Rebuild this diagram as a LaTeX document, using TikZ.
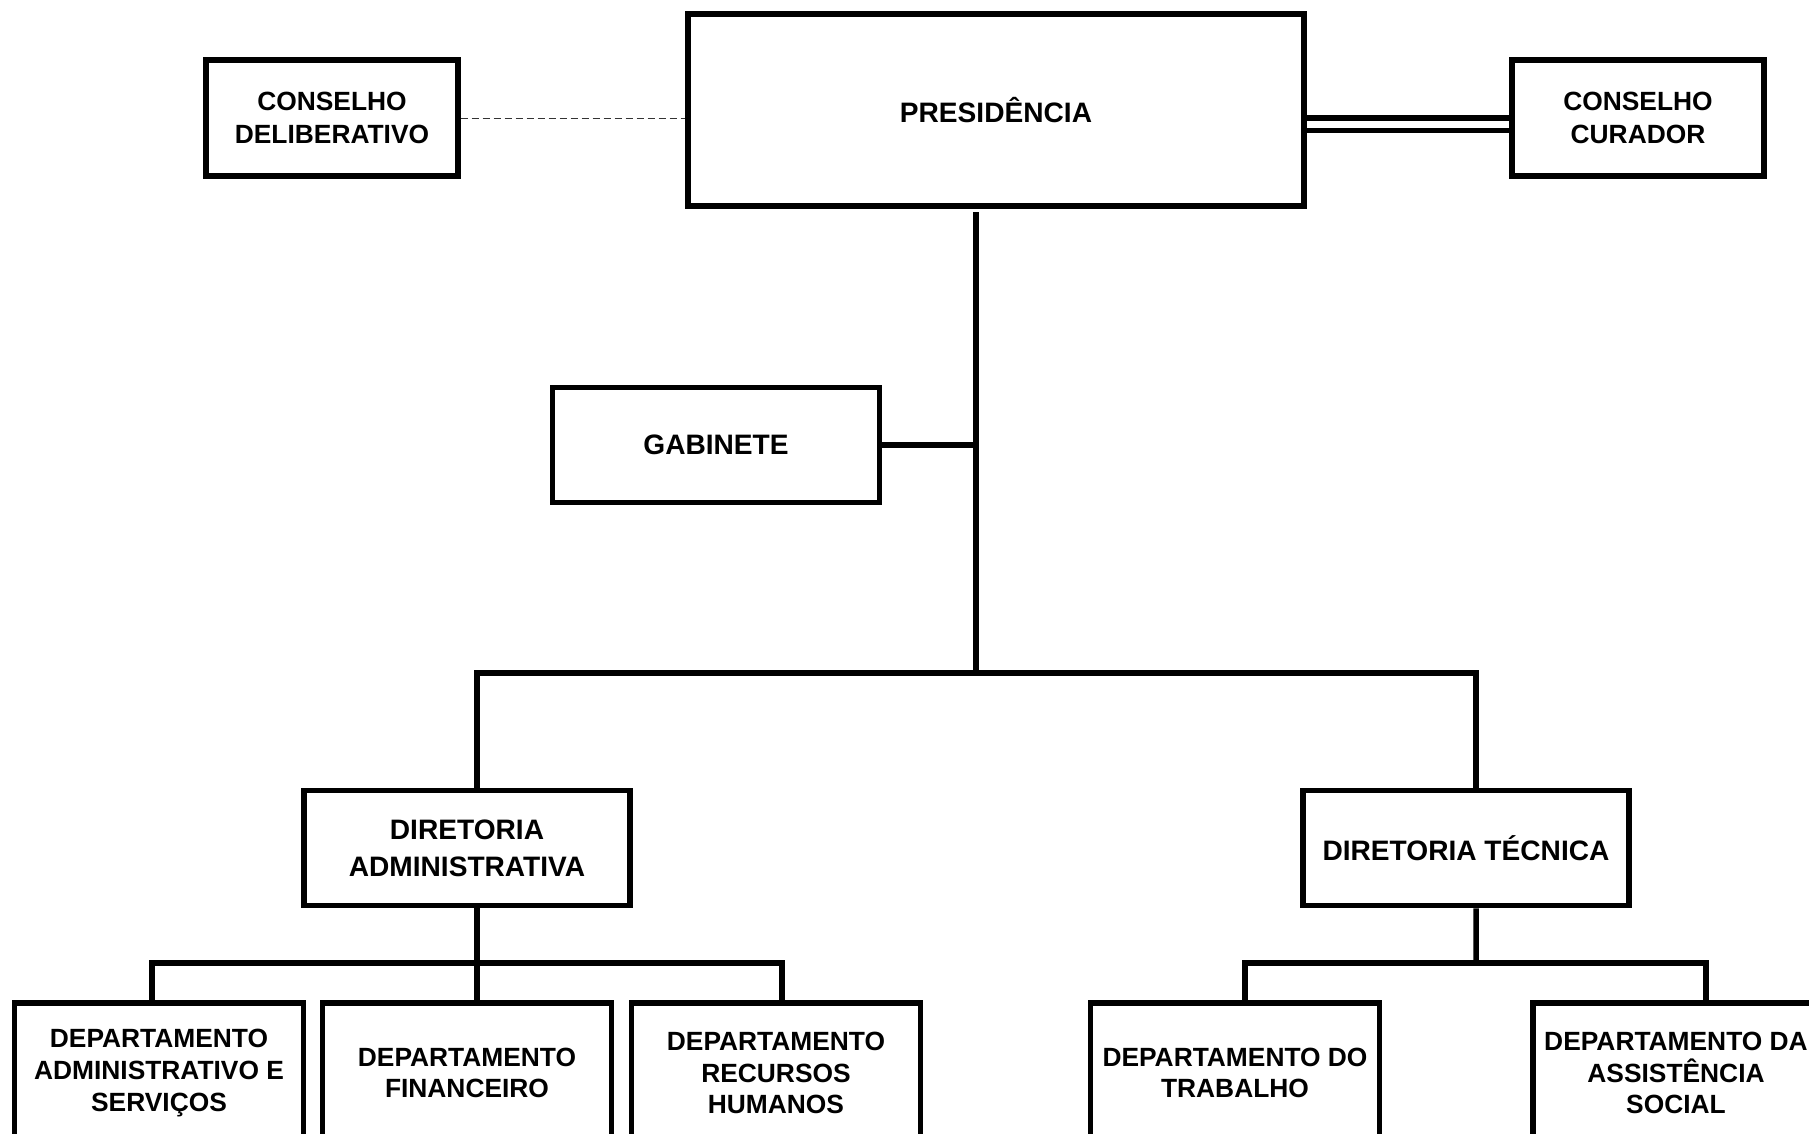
\documentclass[tikz,border=0pt]{standalone}
\usepackage{fontspec}
\setmainfont{Liberation Sans}
\usepackage{tikz}
\usetikzlibrary{positioning,calc}

\begin{document}
\begin{tikzpicture}[x=0.02cm, y=-0.02cm,
  orgbox/.style={draw, rectangle, line width=0.11cm, inner sep=0pt, align=center},
  bigbox/.style={orgbox, font={\fontsize{16}{21}\selectfont\bfseries}},
  council/.style={orgbox, minimum width=5.04cm, minimum height=2.32cm, font={\fontsize{15}{18.4}\selectfont\bfseries}},
  board/.style={bigbox, minimum width=6.52cm, minimum height=2.3cm},
  dept/.style={orgbox, minimum width=5.78cm, minimum height=2.8cm, font={\fontsize{15}{18}\selectfont\bfseries}},
  link/.style={line width=0.11cm},
  dotlink/.style={line width=0.5pt, black!80, dash pattern=on 0.14cm off 0.08cm}
]
\useasboundingbox (0,0) rectangle (1809,1133);
\clip (0,0) rectangle (1809,1133);

\node[bigbox, minimum width=12.32cm, minimum height=3.84cm] (pres) at (996,110) {PRESIDÊNCIA};
\node[council] (delib) at (332,118) {CONSELHO\\DELIBERATIVO};
\node[council] (curador) at (1638,118) {CONSELHO\\CURADOR};
\node[bigbox, minimum width=6.54cm, minimum height=2.3cm] (gab) at (716,445) {GABINETE};
\node[board] (dadm) at (467,848) {DIRETORIA\\ADMINISTRATIVA};
\node[board] (dtec) at (1466,848) {DIRETORIA TÉCNICA};
\node[dept] (das) at (159,1073) {DEPARTAMENTO\\ADMINISTRATIVO E\\SERVIÇOS};
\node[dept] (dfin) at (467,1073) {DEPARTAMENTO\\FINANCEIRO};
\node[dept] (drh) at (776,1073) {DEPARTAMENTO\\RECURSOS\\HUMANOS};
\node[dept] (dtrab) at (1235,1073) {DEPARTAMENTO DO\\TRABALHO};
\node[dept, minimum width=5.72cm] (dass) at (1676,1073) {DEPARTAMENTO DA\\ASSISTÊNCIA\\SOCIAL};

\coordinate (trunktop) at (976,212);
\coordinate (hub) at (976,673);
\coordinate (admbar) at (477,963);
\coordinate (tecbar) at (1476,963);

\draw[dotlink] (delib.east) -- (delib.east -| pres.west);
\draw[link] (curador.west) -- (curador.west -| pres.east);
\draw[link] ([yshift=-0.25cm]curador.west) -- ([yshift=-0.25cm]curador.west -| pres.east);

\draw[link] (trunktop) -- (hub);
\draw[link] (gab.east) -- (gab.east -| hub);
\draw[link] ([xshift=0.2cm]dadm.north) |- (hub) -| ([xshift=0.2cm]dtec.north);

\draw[link] ([xshift=0.2cm]dadm.south) -- ([xshift=0.2cm]dfin.north);
\draw[link] ([xshift=-0.14cm]das.north) |- (admbar) -| ([xshift=0.12cm]drh.north);

\draw[link] ([xshift=0.2cm]dtec.south) -- (tecbar);
\draw[link] ([xshift=0.2cm]dtrab.north) |- (tecbar) -| ([xshift=0.6cm]dass.north);
\end{tikzpicture}
\end{document}
